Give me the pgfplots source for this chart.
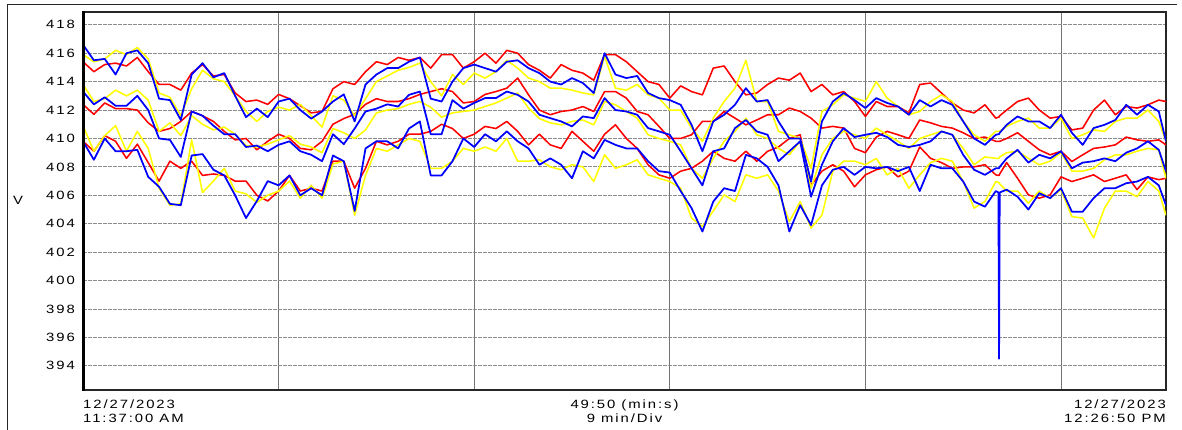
\documentclass[border=0pt]{standalone}
\usepackage{pgfplots}
\pgfplotsset{compat=1.18}
\usepackage{pgfplotstable}
\usepackage{fontspec}
\setmainfont{Liberation Sans}[FakeStretch=1.24, LetterSpace=16]
\definecolor{ylw}{RGB}{255,255,0}
\definecolor{rd}{RGB}{255,0,0}
\definecolor{bl}{RGB}{0,0,255}

\pgfplotstableread{
t RT YT BT RM YM BM RB YB BB
0    415.4 415.9 416.6 412.4 413.8 413.3 409.8 410.9 409.8
0.5  414.7 415.4 415.5 411.7 412.6 412.4 409.1 409.1 408.5
1    415.2 415.6 415.6 412.5 412.8 412.9 410.2 410.2 410.0
1.5  415.3 416.2 414.5 412.1 413.4 412.3 409.8 410.9 409.1
2    415.1 415.9 416.0 412.1 413.0 412.3 408.6 409.1 409.1
2.5  415.7 416.4 416.2 412.0 413.4 413.0 409.6 410.5 409.2
3    414.7 415.6 415.3 411.1 412.7 412.0 408.3 409.3 407.3
3.5  413.8 413.2 412.8 410.5 410.5 410.0 407.0 406.5 406.6
4    413.8 412.9 412.7 410.7 411.1 409.9 408.4 405.3 405.4
4.5  413.4 411.6 411.3 411.2 410.2 408.7 407.9 405.4 405.3
5    414.6 413.5 414.5 411.9 411.6 411.9 408.4 409.9 408.8
5.5  415.2 414.8 415.3 411.6 411.0 411.6 407.4 406.2 408.9
6    414.4 414.2 414.3 411.2 410.6 410.9 407.5 407.0 407.8
6.5  414.5 414.0 414.6 410.5 410.8 410.3 407.4 407.9 407.4
7    413.2 413.0 413.0 409.9 410.3 410.3 407.0 406.3 406.0
7.5  412.6 411.9 411.5 410.0 409.5 409.4 407.0 406.1 404.4
8    412.7 411.2 412.1 409.2 409.4 409.5 406.0 405.5 405.6
8.5  412.4 411.9 411.5 409.8 409.6 409.1 405.6 406.0 407.0
9    413.1 412.2 412.6 410.3 409.9 409.55 406.3 406.3 406.7
9.5  412.8 412.0 412.8 410.0 410.2 409.8 407.4 407.0 407.4
10   412.3 412.4 412.0 409.3 409.6 409.1 406.3 405.8 406.0
10.5 411.8 411.6 411.4 409.2 409.4 408.85 406.5 406.7 406.5
11   411.9 410.8 411.9 409.8 409.0 408.4 406.3 405.8 406.0
11.5 413.5 413.0 412.6 411.0 410.7 410.3 408.4 408.2 408.8
12   414.0 412.7 413.1 411.4 410.4 409.6 408.4 408.4 408.4
12.5 413.8 411.6 411.2 411.7 410.0 410.7 406.5 404.6 404.9
13   414.7 412.8 413.8 412.4 410.6 411.9 407.9 407.4 409.3
13.5 415.4 414.0 414.5 412.8 411.8 412.1 409.8 409.3 409.8
14   415.2 414.4 414.95 412.6 412.0 412.4 409.55 409.1 409.8
14.5 415.7 414.8 414.95 412.6 412.1 412.25 409.8 409.55 409.3
15   415.5 415.0 415.4 412.8 412.4 413.07 410.3 410.0 410.7
15.5 415.7 415.3 415.7 413.1 412.6 413.3 410.3 409.8 411.2
16   414.95 414.0 412.8 413.3 412.2 410.3 410.5 407.9 407.4
16.5 415.9 413.0 412.6 413.5 411.5 410.3 411.0 407.9 407.4
17   415.9 414.5 414.0 413.3 411.8 412.7 410.7 408.4 408.4
17.5 414.95 413.8 414.95 412.5 411.9 412.1 410.0 409.3 410.0
18   415.4 414.6 415.2 412.6 412.0 412.5 410.3 409.1 409.4
18.5 416.0 414.25 414.95 413.1 412.25 412.84 410.85 409.4 410.3
19   415.3 414.7 414.7 413.3 412.5 412.84 410.7 409.1 409.8
19.5 416.2 415.5 415.4 413.54 412.84 413.3 411.2 410.0 410.5
20   416.0 414.95 415.5 414.25 413.2 413.07 410.5 408.4 409.8
20.5 415.2 414.25 414.95 413.07 412.14 412.6 409.55 408.4 409.3
21   414.8 414.0 414.6 412.0 411.4 411.67 410.3 408.5 408.15
21.5 414.25 413.54 414.0 411.67 411.1 411.43 409.55 408.0 408.6
22   415.2 413.54 413.8 411.9 410.96 411.2 409.3 407.8 408.15
22.5 414.8 413.4 414.25 412.0 411.2 410.85 410.5 408.15 407.2
23   414.6 413.2 413.9 412.25 411.3 411.55 409.8 408.0 409.1
23.5 414.1 413.07 413.2 411.9 410.96 411.43 409.1 406.97 408.6
24   415.9 415.8 416.0 413.3 412.6 412.84 410.3 408.85 409.9
24.5 415.9 413.54 414.5 413.3 412.37 412.0 410.96 407.9 409.55
25   415.4 413.4 414.25 412.84 411.9 411.9 410.0 408.15 409.3
25.5 414.7 413.8 414.4 411.9 411.43 411.67 409.3 408.5 409.3
26   414.0 413.07 413.2 411.67 410.26 410.73 408.15 407.44 408.4
26.5 413.8 412.84 412.84 410.85 410.0 410.5 407.44 407.2 407.7
27   412.84 412.0 412.7 410.0 409.8 410.26 407.2 406.97 407.6
27.5 413.7 412.0 412.37 410.0 409.55 409.1 407.7 406.5 406.3
28   413.3 410.73 410.96 410.26 407.9 407.9 407.9 404.4 405.1
28.5 413.07 409.8 409.1 411.2 407.2 406.7 408.4 403.8 403.45
29   414.95 411.43 411.2 411.2 408.6 409.1 409.1 404.9 405.56
29.5 415.1 412.6 411.67 411.9 409.8 409.3 408.6 406.03 406.5
30   414.0 413.54 412.37 411.43 410.5 410.73 408.4 405.56 406.3
30.5 413.07 415.5 413.54 410.96 411.43 411.3 409.1 407.44 408.85
31   413.2 412.6 412.6 411.3 410.26 410.5 408.4 407.2 408.6
31.5 413.8 412.6 412.7 411.67 410.0 410.26 409.1 407.44 408.0
32   414.25 410.5 411.2 411.67 409.3 408.4 409.4 406.3 406.7
32.5 414.1 410.26 410.0 412.14 408.85 409.1 410.0 404.15 403.45
33   414.6 410.0 410.0 411.9 409.8 409.8 410.26 405.56 405.3
33.5 413.3 407.9 406.97 411.43 406.5 405.9 406.7 403.7 403.9
34   413.8 411.9 411.2 410.73 408.85 408.15 407.7 404.6 406.7
34.5 413.07 412.37 412.6 410.85 410.0 409.8 408.15 407.7 407.8
35   413.3 413.07 413.2 410.73 410.5 410.73 407.7 408.4 408.0
35.5 412.6 412.84 412.7 409.3 410.26 410.1 406.6 408.4 407.44
36   411.55 412.6 412.14 409.0 410.0 410.26 407.44 408.15 408.0
36.5 412.6 414.0 412.84 410.1 410.73 410.4 407.8 408.6 407.9
37   412.25 412.84 412.5 410.5 410.26 410.1 408.0 407.44 408.0
37.5 412.25 412.25 412.25 410.26 409.8 409.55 407.3 407.9 407.7
38   411.8 411.67 411.67 410.0 409.3 409.4 407.7 406.5 408.0
38.5 413.8 411.9 412.7 411.3 410.0 409.55 409.4 407.44 406.3
39   413.9 412.6 412.25 411.1 410.26 409.8 408.6 408.3 408.15
39.5 413.2 413.07 412.7 410.85 410.5 410.5 408.3 408.6 407.9
40   412.5 412.6 412.37 410.73 410.26 410.26 407.9 408.4 407.9
40.5 412.0 411.2 411.2 410.4 409.3 408.85 408.0 406.97 406.97
41   411.8 410.26 410.0 410.0 408.15 407.8 408.0 405.1 405.56
41.5 412.37 409.8 409.55 410.1 408.7 407.44 408.15 405.56 405.2
42   411.43 410.5 410.26 409.8 408.6 407.9 407.44 406.97 406.3
42.12 411.5 410.5 410.3 409.8 408.6 407.9 407.4 406.9 406.2
42.15 411.5 410.5 410.3 409.8 408.6 407.9 407.4 406.9 394.5
42.18 411.6 410.5 410.4 409.8 408.7 408.0 407.5 406.8 406.2
42.5 412.0 410.85 410.96 410.0 409.0 408.6 408.3 406.3 406.4
43   412.6 411.2 411.55 410.4 409.1 409.2 407.2 406.3 405.9
43.5 412.84 411.43 411.2 409.8 408.6 408.3 406.03 405.45 405.0
44   412.0 410.73 411.2 409.2 408.15 408.85 405.8 406.3 406.15
44.5 411.43 410.73 410.73 408.85 408.4 408.6 406.03 405.8 405.8
45   411.55 411.43 411.67 409.1 409.0 409.1 407.3 406.4 406.5
45.5 410.6 410.0 410.4 408.38 407.7 407.9 406.97 404.5 404.85
46   410.73 410.26 409.55 408.85 407.7 408.3 407.2 404.4 404.85
46.5 412.0 410.6 410.73 409.3 407.9 408.4 407.44 403.0 405.8
47   412.7 410.5 410.96 409.4 408.5 408.6 406.97 405.1 406.5
47.5 411.67 411.2 411.3 409.55 408.85 408.4 407.2 406.3 406.5
48   412.25 411.43 412.37 410.1 408.85 409.0 407.44 406.3 406.85
48.5 412.14 411.43 411.67 409.9 409.1 409.3 406.4 405.9 406.97
49   412.37 412.0 412.37 409.8 409.3 409.8 407.3 406.97 407.3
49.5 412.7 411.2 411.9 409.9 409.2 409.2 407.1 406.3 406.7
49.83 412.6 409.8 409.8 409.55 407.2 407.7 407.2 404.6 405.3
}\data

\begin{document}
\begin{tikzpicture}
\useasboundingbox (0,0) rectangle (1182pt,430pt);
\draw[line width=1pt, black!85] (7pt,-1pt) -- (7pt,425pt) -- (1177pt,425pt);
\begin{axis}[name=ax, at={(83pt,40pt)}, anchor=south west, scale only axis,
  width=1083pt, height=378pt,
  xmin=0, xmax=49.833, ymin=392.3, ymax=418.9,
  xtick={9,18,27,36,45}, xticklabels={},
  ytick={394,396,...,418},
  major tick length=0pt,
  grid=major,
  x grid style={black!55, line width=1pt},
  y grid style={black!45, line width=0.8pt, dash pattern=on 4pt off 1pt},
  axis line style={line width=1.3pt, black!85},
  /pgf/number format/assume math mode=true,
  yticklabel style={font=\fontsize{12}{13}\selectfont, inner sep=0pt, xshift=-8pt},
  every axis plot/.append style={line width=1.55pt, line join=round, no markers},
]
\addplot[rd] table[x=t,y=RT]{\data};
\addplot[rd] table[x=t,y=RM]{\data};
\addplot[rd] table[x=t,y=RB]{\data};
\addplot[ylw] table[x=t,y=YT]{\data};
\addplot[ylw] table[x=t,y=YM]{\data};
\addplot[ylw] table[x=t,y=YB]{\data};
\addplot[bl, line width=1.75pt] table[x=t,y=BT]{\data};
\addplot[bl, line width=1.75pt] table[x=t,y=BM]{\data};
\addplot[bl, line width=1.75pt] table[x=t,y=BB]{\data};
\end{axis}
\draw[line width=3pt, black] ([yshift=-0.6pt]ax.south west) -- ([yshift=0.6pt]ax.north west);
\node[font=\fontsize{12}{13}\selectfont] at (18pt,230pt) {V};
\node[font=\fontsize{12}{13.5}\selectfont, anchor=north west, align=left, inner sep=0pt] at (83pt,30pt) {12/27/2023\\11:37:00 AM};
\node[font=\fontsize{12}{13.5}\selectfont, anchor=north, align=center, inner sep=0pt] at (624.5pt,30pt) {49:50 (min:s)\\9 min/Div};
\node[font=\fontsize{12}{13.5}\selectfont, anchor=north east, align=right, inner sep=0pt] at (1166pt,30pt) {12/27/2023\\12:26:50 PM};
\end{tikzpicture}
\end{document}
